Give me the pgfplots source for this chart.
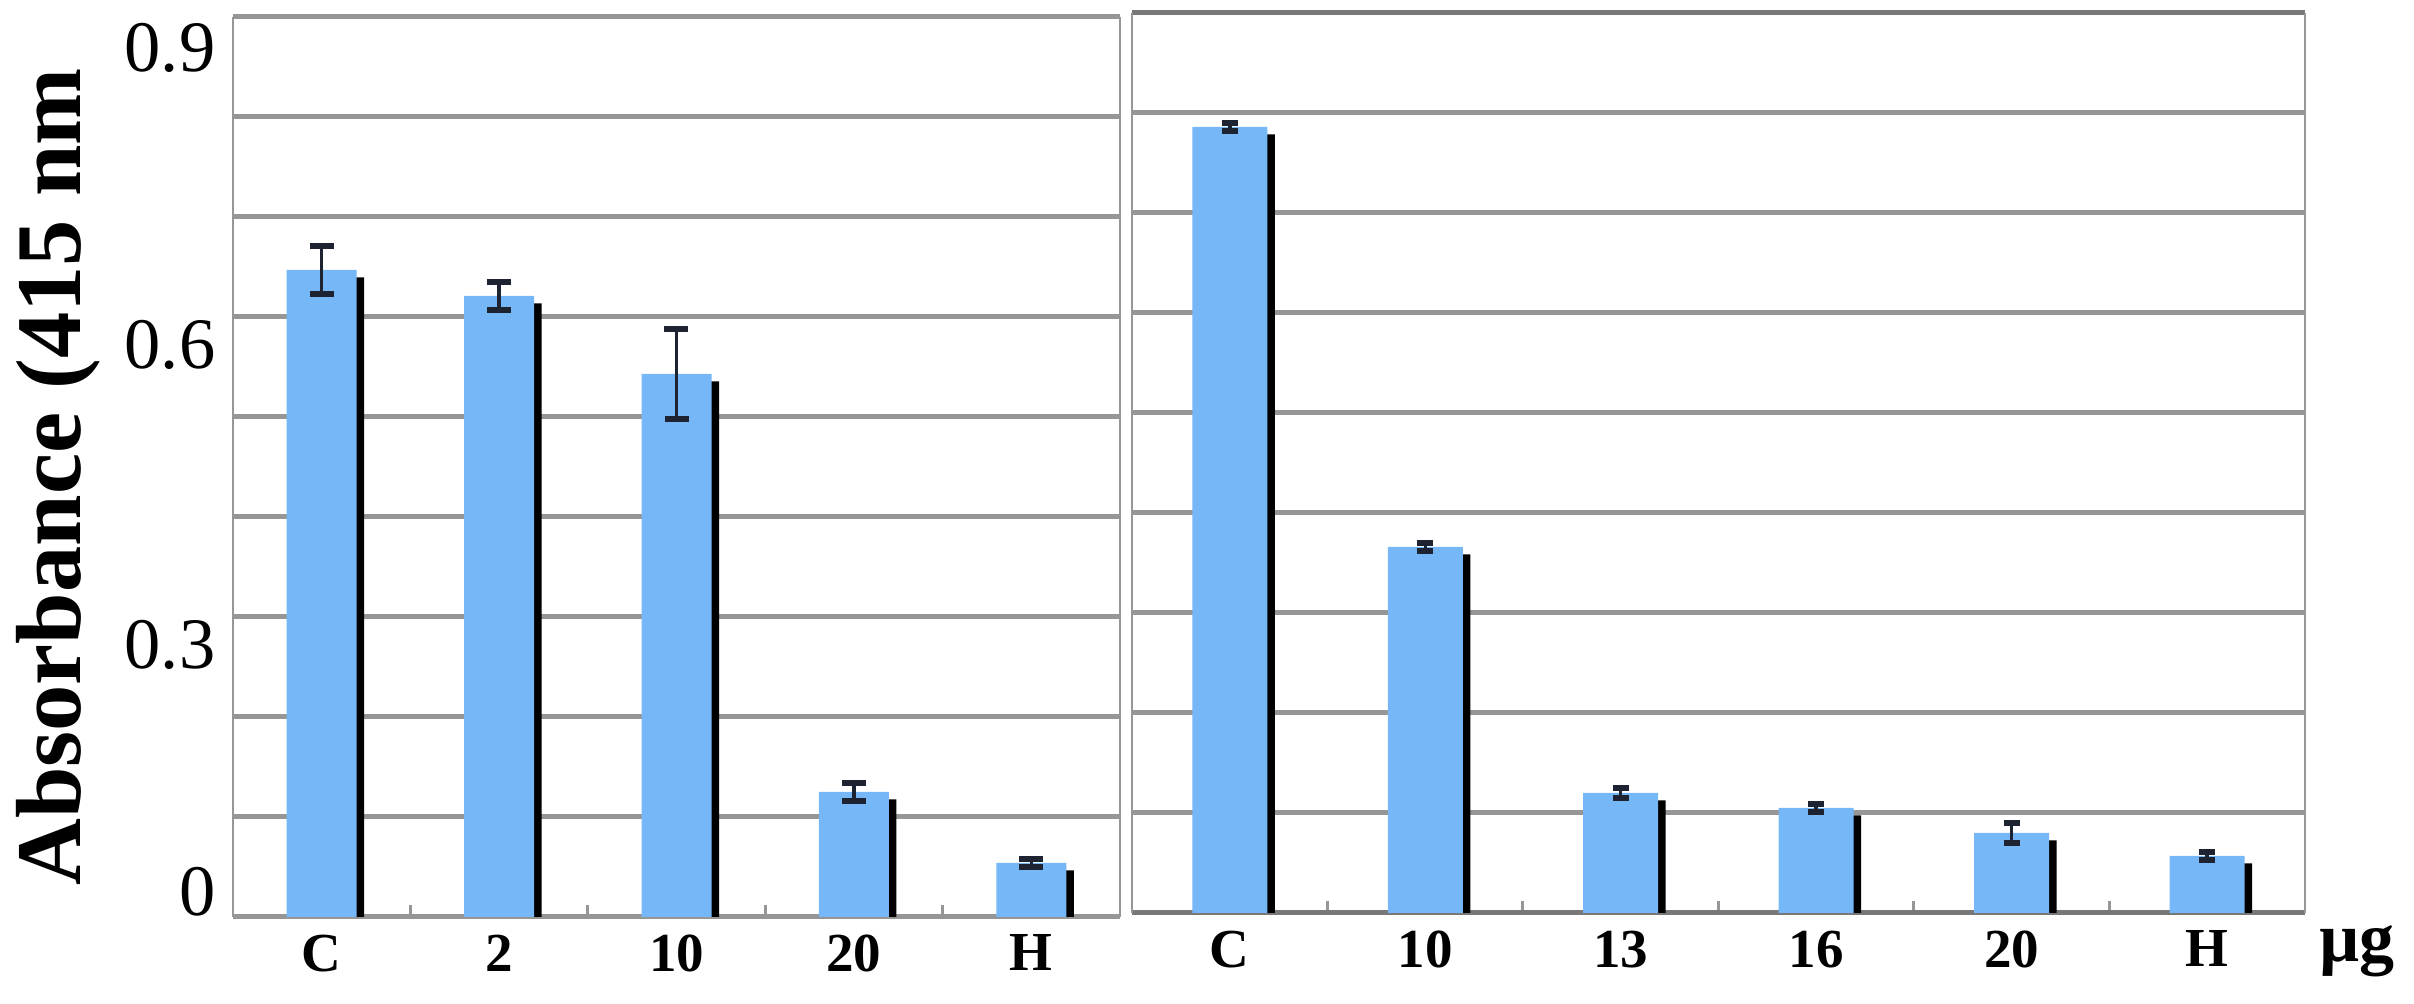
\documentclass[border=0pt]{standalone}
\usepackage{pgfplots}
\pgfplotsset{compat=1.18}
\usepackage{fontspec}
\setmainfont{Liberation Serif}

\definecolor{barblue}{RGB}{117,183,247}
\definecolor{gridgray}{RGB}{150,150,150}
\definecolor{axisgray}{RGB}{120,120,120}
\definecolor{errcol}{RGB}{30,35,50}

\pgfplotsset{
  panel/.style={
    scale only axis, height=180pt,
    ymin=0, ymax=0.9, xmin=-0.5,
    separate axis lines,
    x axis line style={line width=1pt, draw=axisgray},
    y axis line style={line width=0.5pt, draw=gridgray},
    xtick pos=bottom, ytick pos=left,
    major tick length=0pt,
    minor tick length=2.4pt,
    minor tick style={draw=gridgray, line width=0.6pt},
    ytick style={draw=none},
    xticklabel style={font=\fontsize{11}{11}\selectfont\bfseries},
    yticklabel style={font=\fontsize{14.5}{14.5}\selectfont},
  },
  shadow/.style={ybar, bar shift=0pt, bar width=#1, fill=black, draw=none,
    xshift=1.5pt, yshift=-1.5pt},
  bars/.style 2 args={ybar, bar shift=0pt, bar width=#1, fill=barblue, draw=none,
    error bars/.cd, y dir=both, y explicit,
    error bar style={line width=0.7pt, errcol},
    error mark=|,
    error mark options={line width=1.1pt, mark size=#2, errcol}},
}

\begin{document}
\begin{tikzpicture}
\path[use as bounding box] (0,0) rectangle (482.8pt,200.8pt);

% left panel
\begin{axis}[panel, at={(46.6pt,17.4pt)}, anchor=south west,
  width=177.4pt, xmax=4.5,
  xtick={0,1,2,3,4}, xticklabels={C,2,10,20,H},
  minor xtick={0.5,1.5,2.5,3.5},
  ytick={0.025,0.272,0.572,0.869}, yticklabels={0,0.3,0.6,0.9},
  extra y ticks={0,0.1,0.2,0.3,0.4,0.5,0.6,0.7,0.8,0.9},
  extra y tick labels={},
  extra y tick style={grid=major, major grid style={gridgray, line width=1pt}},
]
\addplot[shadow=14pt] coordinates {(0,0.647) (1,0.621) (2,0.543) (3,0.125) (4,0.054)};
\addplot[bars={14pt}{2.4pt}] coordinates {
  (0,0.647) +- (0,0.024)
  (1,0.621) +- (0,0.014)
  (2,0.543) +- (0,0.045)
  (3,0.125) +- (0,0.009)
  (4,0.054) +- (0,0.004)
};
\end{axis}

% right panel
\begin{axis}[panel, at={(226.4pt,18.2pt)}, anchor=south west,
  width=234.6pt, xmax=5.5,
  xtick={0,1,2,3,4,5}, xticklabels={C,10,13,16,20,H},
  minor xtick={0.5,1.5,2.5,3.5,4.5},
  ytick={0,0.1,0.2,0.3,0.4,0.5,0.6,0.7,0.8,0.9}, yticklabels={},
  ymajorgrids, major grid style={gridgray, line width=1pt},
]
\addplot[shadow=15pt] coordinates {(0,0.786) (1,0.366) (2,0.120) (3,0.105) (4,0.080) (5,0.057)};
\addplot[bars={15pt}{1.6pt}] coordinates {
  (0,0.786) +- (0,0.004)
  (1,0.366) +- (0,0.004)
  (2,0.120) +- (0,0.005)
  (3,0.105) +- (0,0.004)
  (4,0.080) +- (0,0.010)
  (5,0.057) +- (0,0.004)
};
\end{axis}

\node[rotate=90, anchor=base, font=\fontsize{18.5}{18.5}\selectfont\bfseries]
  at (16pt,105.4pt) {Absorbance (415 nm};
\node[anchor=base, font=\fontsize{14}{14}\selectfont\bfseries]
  at (471.4pt,8.4pt) {µg};
\end{tikzpicture}
\end{document}
